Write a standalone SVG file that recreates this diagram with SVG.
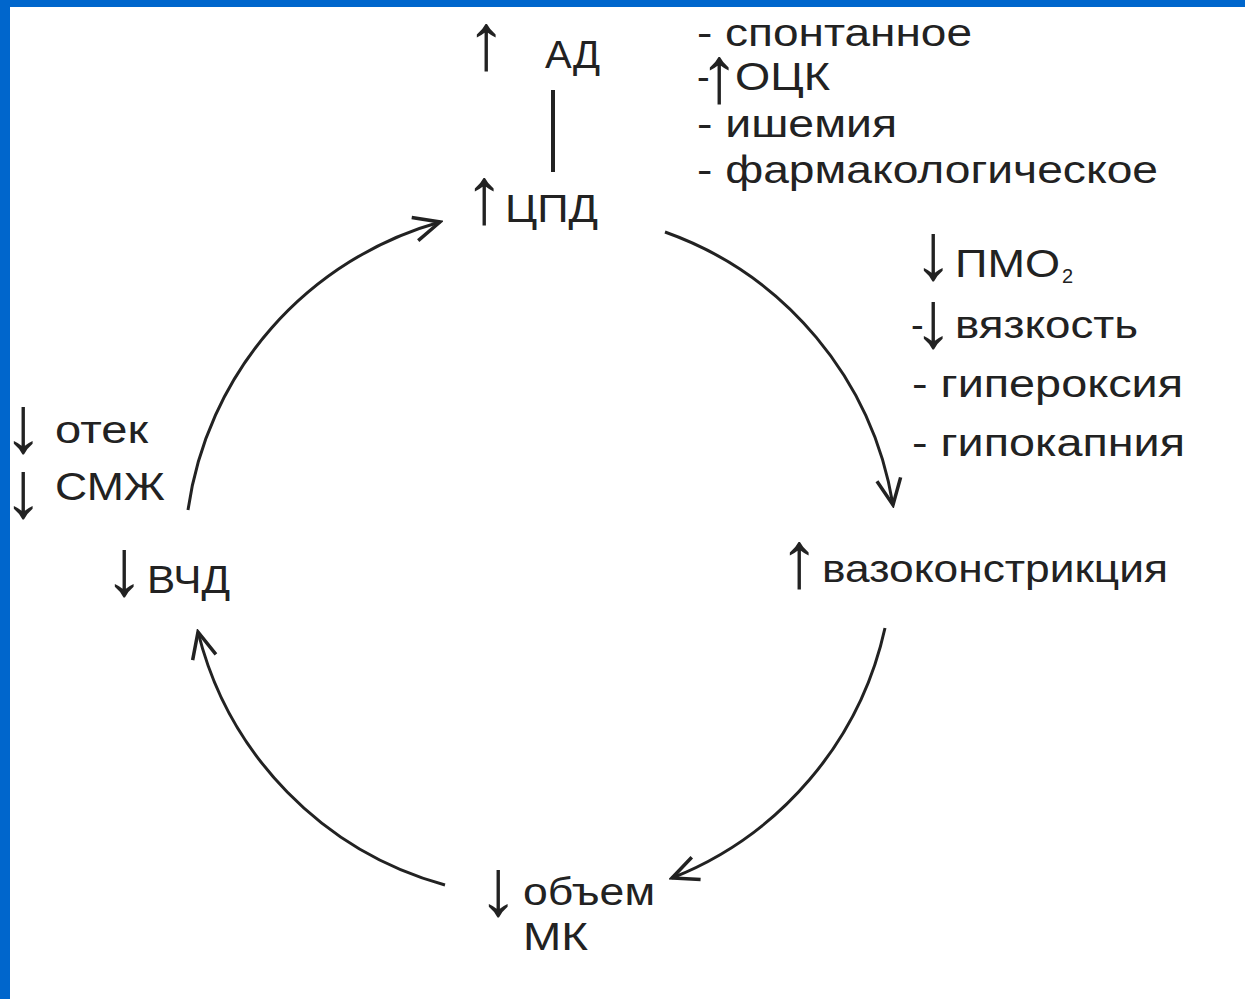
<svg xmlns="http://www.w3.org/2000/svg" width="1245" height="999" viewBox="0 0 1245 999">
<style>
text{font-family:"Liberation Sans",Arial,sans-serif;fill:#222;font-size:38px}
.ar{font-family:"Liberation Sans","DejaVu Sans",sans-serif;font-size:80px}
.sub{font-size:20px}
.c{fill:none;stroke:#222;stroke-width:3}
</style>
<defs>
<marker id="v" markerUnits="userSpaceOnUse" markerWidth="32" markerHeight="32" viewBox="0 0 32 32" refX="29" refY="16" orient="auto">
<path d="M3,4 L29,16 L3,28" fill="none" stroke="#222" stroke-width="3.5" stroke-linejoin="miter"/>
</marker>
</defs>
<rect x="0" y="0" width="1245" height="999" fill="#fff"/>
<rect x="0" y="0" width="1245" height="7" fill="#0066cc"/>
<rect x="0" y="0" width="10" height="999" fill="#0066cc"/>
<g id="connectors">
<path class="c" d="M188,510 A350,350 0 0 1 440,222" marker-end="url(#v)"/>
<path class="c" d="M665,232 A350,350 0 0 1 893,505" marker-end="url(#v)"/>
<path class="c" d="M885,628 A350,350 0 0 1 672,878" marker-end="url(#v)"/>
<path class="c" d="M445,885 A350,350 0 0 1 198,632" marker-end="url(#v)"/>
<line x1="553" y1="90" x2="553" y2="172" stroke="#222" stroke-width="4"/>
</g>
<g id="ad">
<text class="ar" x="466" y="69">↑</text>
<text x="545" y="68" textLength="55" lengthAdjust="spacingAndGlyphs">АД</text>
</g>
<g id="cpd">
<text class="ar" x="464" y="223">↑</text>
<text x="505" y="222" textLength="93" lengthAdjust="spacingAndGlyphs">ЦПД</text>
</g>
<g id="causes">
<text x="697" y="46" textLength="275" lengthAdjust="spacingAndGlyphs">- спонтанное</text>
<text x="697" y="90">-<tspan class="ar" x="699" y="102">↑</tspan><tspan x="735" y="90" textLength="95" lengthAdjust="spacingAndGlyphs">ОЦК</tspan></text>
<text x="697" y="137" textLength="200" lengthAdjust="spacingAndGlyphs">- ишемия</text>
<text x="697" y="183" textLength="461" lengthAdjust="spacingAndGlyphs">- фармакологическое</text>
</g>
<g id="factors">
<text class="ar" x="913" y="279">↓<tspan style="font-size:38px" x="955" y="277" textLength="105" lengthAdjust="spacingAndGlyphs">ПМО</tspan><tspan class="sub" x="1062" y="283">2</tspan></text>
<text x="911" y="338">-<tspan class="ar" x="913" y="347">↓</tspan><tspan x="955" y="338" textLength="183" lengthAdjust="spacingAndGlyphs">вязкость</tspan></text>
<text x="912" y="397" textLength="271" lengthAdjust="spacingAndGlyphs">- гипероксия</text>
<text x="912" y="456" textLength="273" lengthAdjust="spacingAndGlyphs">- гипокапния</text>
</g>
<g id="vaso">
<text class="ar" x="779" y="587">↑</text>
<text x="822" y="582" textLength="346" lengthAdjust="spacingAndGlyphs">вазоконстрикция</text>
</g>
<g id="volume">
<text class="ar" x="478" y="915">↓</text>
<text x="523" y="905" textLength="132" lengthAdjust="spacingAndGlyphs">объем</text>
<text x="523" y="950" textLength="65" lengthAdjust="spacingAndGlyphs">МК</text>
</g>
<g id="vchd">
<text class="ar" x="104" y="595">↓</text>
<text x="147" y="593" textLength="83" lengthAdjust="spacingAndGlyphs">ВЧД</text>
</g>
<g id="left">
<text class="ar" x="3" y="452">↓</text>
<text x="55" y="443" textLength="93" lengthAdjust="spacingAndGlyphs">отек</text>
<text class="ar" x="3" y="517">↓</text>
<text x="55" y="500" textLength="110" lengthAdjust="spacingAndGlyphs">СМЖ</text>
</g>
</svg>
